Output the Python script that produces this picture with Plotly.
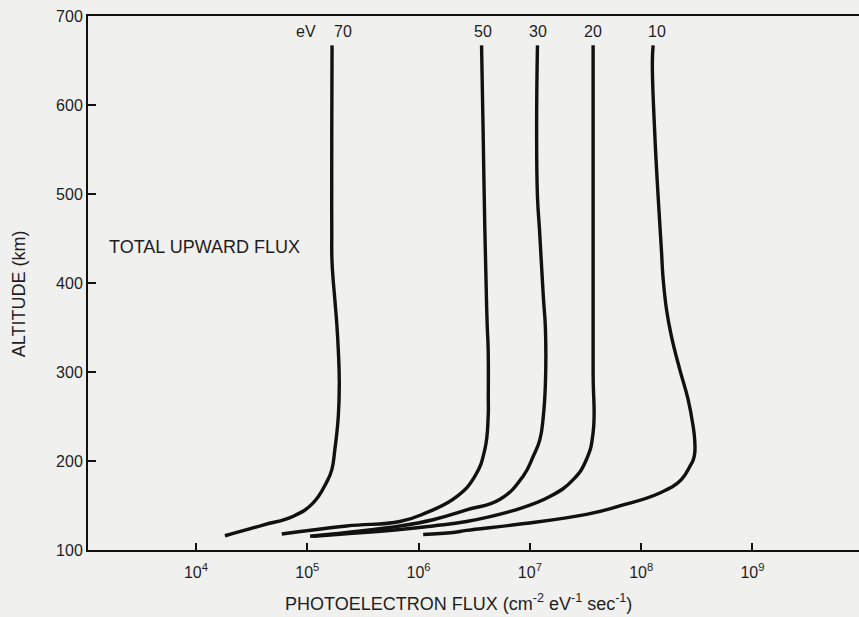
import math
import plotly.graph_objects as go

# Photoelectron flux profiles (cm^-2 eV^-1 sec^-1) versus altitude (km)
energies = ["70", "50", "30", "20", "10"]

alt_70 = [667, 572, 460, 423, 381, 355, 325, 288, 250, 213, 190, 176, 153, 138, 128, 116]
flux_70 = [1.67e5, 1.66e5, 1.66e5, 1.67e5, 1.77e5, 1.84e5, 1.90e5, 1.94e5, 1.90e5,
           1.77e5, 1.66e5, 1.49e5, 1.13e5, 7.5e4, 4.0e4, 1.82e4]

alt_50 = [667, 572, 460, 355, 325, 271, 250, 213, 183, 160, 142, 132, 127, 118]
flux_50 = [3.68e6, 3.80e6, 3.94e6, 4.13e6, 4.22e6, 4.23e6, 4.22e6, 3.94e6, 3.21e6,
           2.20e6, 1.18e6, 6.8e5, 2.25e5, 5.9e4]

alt_30 = [667, 572, 497, 460, 385, 348, 288, 250, 224, 205, 183, 157, 145, 134, 127, 115.5]
flux_30 = [1.17e7, 1.15e7, 1.17e7, 1.22e7, 1.32e7, 1.38e7, 1.38e7, 1.32e7, 1.23e7,
           1.07e7, 8.7e6, 5.4e6, 2.7e6, 1.35e6, 6.8e5, 1.06e5]

alt_20 = [667, 550, 400, 300, 232, 202, 179, 160, 145.5, 132, 127, 123, 115.5]
flux_20 = [3.70e7, 3.70e7, 3.70e7, 3.70e7, 3.70e7, 3.23e7, 2.45e7, 1.51e7, 7.6e6,
           2.7e6, 1.35e6, 6.8e5, 1.12e5]

alt_10 = [667, 647, 572, 497, 437, 407, 370, 340, 303, 270, 239, 225, 209, 201,
          194, 179, 164, 149, 140, 128.6, 122, 119.6, 117.4]
flux_10 = [1.28e8, 1.26e8, 1.32e8, 1.42e8, 1.52e8, 1.57e8, 1.69e8, 1.87e8, 2.22e8,
           2.63e8, 2.93e8, 3.02e8, 3.03e8, 2.93e8, 2.74e8, 2.29e8, 1.47e8, 6.2e7,
           3.23e7, 7.6e6, 2.7e6, 2.05e6, 1.10e6]

altitudes = [alt_70, alt_50, alt_30, alt_20, alt_10]
fluxes = [flux_70, flux_50, flux_30, flux_20, flux_10]

x_tick_vals = [1e4, 1e5, 1e6, 1e7, 1e8, 1e9]
x_tick_text = ["10<sup>4</sup>", "10<sup>5</sup>", "10<sup>6</sup>",
               "10<sup>7</sup>", "10<sup>8</sup>", "10<sup>9</sup>"]
y_tick_vals = [100, 200, 300, 400, 500, 600, 700]

x_title = "PHOTOELECTRON FLUX (cm<sup>-2</sup> eV<sup>-1</sup> sec<sup>-1</sup>)"
y_title = "ALTITUDE (km)"

INK = "#111111"
TEXT = "#1e1e1e"
PAPER = "#f0f0ee"
FONT = "Liberation Sans, Arial, sans-serif"

fig = go.Figure()
for name, alt, flux in zip(energies, altitudes, fluxes):
    fig.add_trace(go.Scatter(
        x=flux, y=alt, mode="lines", name=name + " eV",
        line=dict(color=INK, width=3.4, shape="spline", smoothing=1.3),
        showlegend=False, hoverinfo="skip",
    ))

# energy labels above the top of each profile
label_shift = {"70": 11, "50": 1, "30": 1, "20": 0, "10": 4}
annotations = []
for name, flux in zip(energies, fluxes):
    annotations.append(dict(
        x=math.log10(flux[0]), y=683, xref="x", yref="y", text=name,
        showarrow=False, xshift=label_shift[name],
        font=dict(family=FONT, size=16, color=TEXT),
    ))
annotations.append(dict(
    x=math.log10(flux_70[0]), y=683, xref="x", yref="y", text="eV",
    showarrow=False, xshift=-26, font=dict(family=FONT, size=16, color=TEXT),
))
annotations.append(dict(
    x=3.2, y=441, xref="x", yref="y", text="TOTAL UPWARD FLUX",
    showarrow=False, xanchor="left", font=dict(family=FONT, size=18, color=TEXT),
))
# axis titles
annotations.append(dict(
    x=0.48, y=-0.099, xref="paper", yref="paper", text=x_title,
    showarrow=False, xanchor="center", yanchor="middle",
    font=dict(family=FONT, size=18, color=TEXT),
))
annotations.append(dict(
    x=-0.0895, y=0.481, xref="paper", yref="paper", text=y_title,
    showarrow=False, xanchor="center", yanchor="middle", textangle=-90,
    font=dict(family=FONT, size=18, color=TEXT),
))
fig.update_layout(annotations=annotations)

fig.update_layout(
    width=859, height=617,
    margin=dict(l=88, r=0, t=16, b=67),
    paper_bgcolor=PAPER, plot_bgcolor=PAPER,
    font=dict(family=FONT, size=16, color=TEXT),
    xaxis=dict(
        type="log", range=[3.03, 9.957],
        tickvals=x_tick_vals, ticktext=x_tick_text,
        ticks="inside", ticklen=7, tickwidth=2, tickcolor=INK,
        ticklabelstandoff=7,
        showline=True, linecolor=INK, linewidth=2, mirror=True,
        showgrid=False, zeroline=False,
        tickfont=dict(family=FONT, size=16, color=TEXT),
    ),
    yaxis=dict(
        range=[100, 700], tickvals=y_tick_vals,
        ticks="inside", ticklen=8, tickwidth=2, tickcolor=INK,
        showline=True, linecolor=INK, linewidth=2, mirror=False,
        showgrid=False, zeroline=False,
        tickfont=dict(family=FONT, size=16, color=TEXT),
    ),
)

fig.write_html("out.html")
